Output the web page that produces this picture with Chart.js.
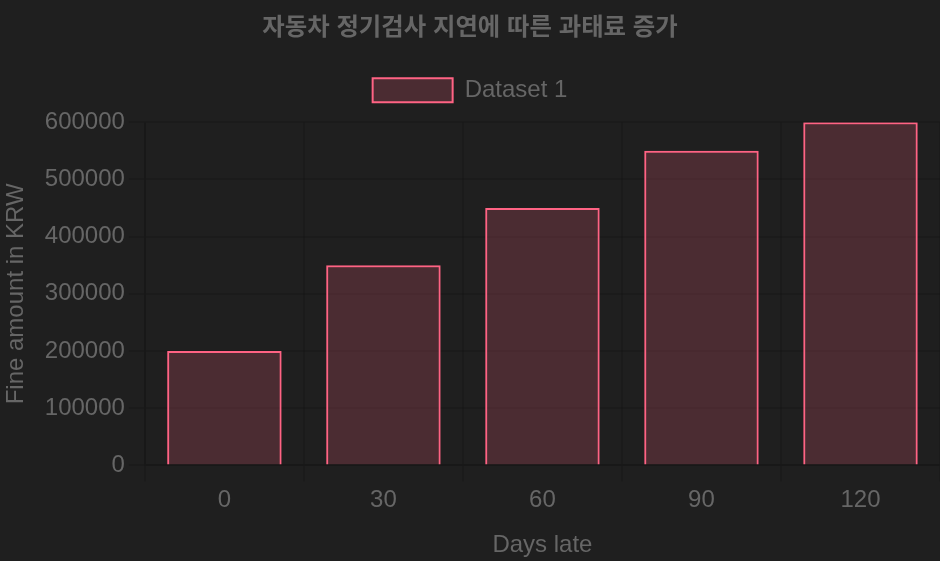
<!DOCTYPE html>
<html>
<head>
<meta charset="utf-8">
<script src="https://cdn.jsdelivr.net/npm/chart.js@4"></script>
<style>
  html, body { margin: 0; padding: 0; background: #1f1f1f; }
  #wrap { width: 940px; height: 561px; position: relative; }
</style>
</head>
<body>
<div id="wrap"><canvas id="c"></canvas></div>
<script>
const categories = ['0', '30', '60', '90', '120'];
const fineValues = [200000, 350000, 450000, 550000, 600000];
const seriesLabel = 'Dataset 1';
const chartTitle = '자동차 정기검사 지연에 따른 과태료 증가';
const xTitle = 'Days late';
const yTitle = 'Fine amount in KRW';

Chart.defaults.font.family = "'Helvetica Neue', Helvetica, Arial, 'Liberation Sans', 'Noto Sans CJK KR', sans-serif";
Chart.defaults.font.size = 24;
Chart.defaults.color = '#666';

const bgPlugin = {
  id: 'bg',
  beforeDraw(chart) {
    const ctx = chart.ctx;
    ctx.save();
    ctx.fillStyle = '#1f1f1f';
    ctx.fillRect(0, 0, chart.width, chart.height);
    ctx.restore();
  }
};

// adds extra space below the legend row
const legendSpacer = {
  id: 'legendSpacer',
  beforeLayout(chart) {
    const lg = chart.legend;
    if (lg && !lg._spacerPatched) {
      const orig = lg.fit.bind(lg);
      lg.fit = function () { orig(); this.height += 10; };
      lg._spacerPatched = true;
    }
  }
};

const gridOpts = { lineWidth: 2, tickLength: 16, color: 'rgba(0,0,0,0.1)' };

new Chart(document.getElementById('c'), {
  type: 'bar',
  data: {
    labels: categories,
    datasets: [{
      label: seriesLabel,
      data: fineValues,
      backgroundColor: 'rgba(255, 99, 132, 0.2)',
      borderColor: 'rgb(255, 99, 132)',
      borderWidth: 2
    }]
  },
  options: {
    responsive: true,
    maintainAspectRatio: false,
    animation: false,
    devicePixelRatio: 1,
    plugins: {
      title: {
        display: true,
        text: chartTitle,
        font: { size: 24.4, weight: 'bold' },
        padding: { top: 14, bottom: 15 }
      },
      legend: {
        labels: { boxWidth: 80, padding: 20, font: { size: 24 } }
      },
      tooltip: { enabled: false }
    },
    scales: {
      x: {
        grid: gridOpts,
        border: { width: 2, color: 'rgba(0,0,0,0.1)' },
        ticks: { padding: 5, font: { size: 24 } },
        title: { display: true, text: xTitle, padding: { top: 11, bottom: 1 }, font: { size: 24 } }
      },
      y: {
        beginAtZero: true,
        max: 600000,
        grid: gridOpts,
        border: { width: 2, color: 'rgba(0,0,0,0.1)' },
        ticks: {
          padding: 4,
          stepSize: 100000,
          font: { size: 24 },
          callback: (v) => String(v)
        },
        title: { display: true, text: yTitle, padding: { top: 1.5, bottom: 10.5 }, font: { size: 24 } }
      }
    }
  },
  plugins: [bgPlugin, legendSpacer]
});
</script>
</body>
</html>
